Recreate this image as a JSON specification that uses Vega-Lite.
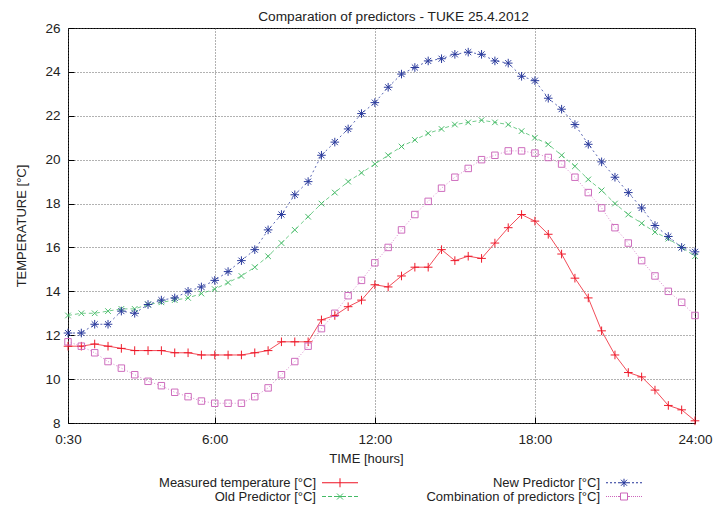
{
  "$schema": "https://vega.github.io/schema/vega-lite/v6.json",
  "width": 627,
  "height": 395,
  "autosize": {"type": "none"},
  "padding": {"left": 68, "top": 28, "right": 18, "bottom": 83},
  "title": {"text": "Comparation of predictors - TUKE 25.4.2012", "fontSize": 13.7, "fontWeight": "normal", "font": "Liberation Sans", "color": "#222222", "offset": 4, "dy": 7, "dx": 12},
  "config": {
    "view": {"stroke": "#000000", "strokeWidth": 1},
    "font": "Liberation Sans",
    "axis": {"labelFont": "Liberation Sans", "titleFont": "Liberation Sans", "labelColor": "#222222", "titleColor": "#222222", "labelFontSize": 13.5, "titleFontSize": 13, "titleFontWeight": "normal", "grid": true, "gridDash": [1, 2], "gridColor": "#555555", "gridOpacity": 0.9, "ticks": true, "tickSize": -6, "tickColor": "#000000", "tickWidth": 1, "domain": false}
  },
  "data": {"values": [
    {"time":0.5,"series":"Measured temperature [°C]","temp":11.5},{"time":1,"series":"Measured temperature [°C]","temp":11.5},{"time":1.5,"series":"Measured temperature [°C]","temp":11.6},{"time":2,"series":"Measured temperature [°C]","temp":11.5},{"time":2.5,"series":"Measured temperature [°C]","temp":11.4},{"time":3,"series":"Measured temperature [°C]","temp":11.3},{"time":3.5,"series":"Measured temperature [°C]","temp":11.3},{"time":4,"series":"Measured temperature [°C]","temp":11.3},{"time":4.5,"series":"Measured temperature [°C]","temp":11.2},{"time":5,"series":"Measured temperature [°C]","temp":11.2},{"time":5.5,"series":"Measured temperature [°C]","temp":11.1},{"time":6,"series":"Measured temperature [°C]","temp":11.1},{"time":6.5,"series":"Measured temperature [°C]","temp":11.1},{"time":7,"series":"Measured temperature [°C]","temp":11.1},{"time":7.5,"series":"Measured temperature [°C]","temp":11.2},{"time":8,"series":"Measured temperature [°C]","temp":11.3},{"time":8.5,"series":"Measured temperature [°C]","temp":11.7},{"time":9,"series":"Measured temperature [°C]","temp":11.7},{"time":9.5,"series":"Measured temperature [°C]","temp":11.7},{"time":10,"series":"Measured temperature [°C]","temp":12.7},{"time":10.5,"series":"Measured temperature [°C]","temp":12.9},{"time":11,"series":"Measured temperature [°C]","temp":13.3},{"time":11.5,"series":"Measured temperature [°C]","temp":13.6},{"time":12,"series":"Measured temperature [°C]","temp":14.3},{"time":12.5,"series":"Measured temperature [°C]","temp":14.2},{"time":13,"series":"Measured temperature [°C]","temp":14.7},{"time":13.5,"series":"Measured temperature [°C]","temp":15.1},{"time":14,"series":"Measured temperature [°C]","temp":15.1},{"time":14.5,"series":"Measured temperature [°C]","temp":15.9},{"time":15,"series":"Measured temperature [°C]","temp":15.4},{"time":15.5,"series":"Measured temperature [°C]","temp":15.6},{"time":16,"series":"Measured temperature [°C]","temp":15.5},{"time":16.5,"series":"Measured temperature [°C]","temp":16.2},{"time":17,"series":"Measured temperature [°C]","temp":16.9},{"time":17.5,"series":"Measured temperature [°C]","temp":17.5},{"time":18,"series":"Measured temperature [°C]","temp":17.2},{"time":18.5,"series":"Measured temperature [°C]","temp":16.6},{"time":19,"series":"Measured temperature [°C]","temp":15.7},{"time":19.5,"series":"Measured temperature [°C]","temp":14.6},{"time":20,"series":"Measured temperature [°C]","temp":13.7},{"time":20.5,"series":"Measured temperature [°C]","temp":12.2},{"time":21,"series":"Measured temperature [°C]","temp":11.1},{"time":21.5,"series":"Measured temperature [°C]","temp":10.3},{"time":22,"series":"Measured temperature [°C]","temp":10.1},{"time":22.5,"series":"Measured temperature [°C]","temp":9.5},{"time":23,"series":"Measured temperature [°C]","temp":8.8},{"time":23.5,"series":"Measured temperature [°C]","temp":8.6},{"time":24,"series":"Measured temperature [°C]","temp":8.1},
    {"time":0.5,"series":"Old Predictor [°C]","temp":12.9},{"time":1,"series":"Old Predictor [°C]","temp":13.0},{"time":1.5,"series":"Old Predictor [°C]","temp":13.0},{"time":2,"series":"Old Predictor [°C]","temp":13.1},{"time":2.5,"series":"Old Predictor [°C]","temp":13.2},{"time":3,"series":"Old Predictor [°C]","temp":13.2},{"time":3.5,"series":"Old Predictor [°C]","temp":13.4},{"time":4,"series":"Old Predictor [°C]","temp":13.5},{"time":4.5,"series":"Old Predictor [°C]","temp":13.6},{"time":5,"series":"Old Predictor [°C]","temp":13.7},{"time":5.5,"series":"Old Predictor [°C]","temp":13.9},{"time":6,"series":"Old Predictor [°C]","temp":14.1},{"time":6.5,"series":"Old Predictor [°C]","temp":14.4},{"time":7,"series":"Old Predictor [°C]","temp":14.7},{"time":7.5,"series":"Old Predictor [°C]","temp":15.1},{"time":8,"series":"Old Predictor [°C]","temp":15.6},{"time":8.5,"series":"Old Predictor [°C]","temp":16.2},{"time":9,"series":"Old Predictor [°C]","temp":16.8},{"time":9.5,"series":"Old Predictor [°C]","temp":17.4},{"time":10,"series":"Old Predictor [°C]","temp":18.0},{"time":10.5,"series":"Old Predictor [°C]","temp":18.5},{"time":11,"series":"Old Predictor [°C]","temp":19.0},{"time":11.5,"series":"Old Predictor [°C]","temp":19.4},{"time":12,"series":"Old Predictor [°C]","temp":19.8},{"time":12.5,"series":"Old Predictor [°C]","temp":20.2},{"time":13,"series":"Old Predictor [°C]","temp":20.6},{"time":13.5,"series":"Old Predictor [°C]","temp":20.9},{"time":14,"series":"Old Predictor [°C]","temp":21.2},{"time":14.5,"series":"Old Predictor [°C]","temp":21.4},{"time":15,"series":"Old Predictor [°C]","temp":21.6},{"time":15.5,"series":"Old Predictor [°C]","temp":21.7},{"time":16,"series":"Old Predictor [°C]","temp":21.8},{"time":16.5,"series":"Old Predictor [°C]","temp":21.7},{"time":17,"series":"Old Predictor [°C]","temp":21.6},{"time":17.5,"series":"Old Predictor [°C]","temp":21.3},{"time":18,"series":"Old Predictor [°C]","temp":21.0},{"time":18.5,"series":"Old Predictor [°C]","temp":20.7},{"time":19,"series":"Old Predictor [°C]","temp":20.2},{"time":19.5,"series":"Old Predictor [°C]","temp":19.7},{"time":20,"series":"Old Predictor [°C]","temp":19.1},{"time":20.5,"series":"Old Predictor [°C]","temp":18.6},{"time":21,"series":"Old Predictor [°C]","temp":18.0},{"time":21.5,"series":"Old Predictor [°C]","temp":17.5},{"time":22,"series":"Old Predictor [°C]","temp":17.1},{"time":22.5,"series":"Old Predictor [°C]","temp":16.7},{"time":23,"series":"Old Predictor [°C]","temp":16.4},{"time":23.5,"series":"Old Predictor [°C]","temp":16.0},{"time":24,"series":"Old Predictor [°C]","temp":15.6},
    {"time":0.5,"series":"New Predictor [°C]","temp":12.1},{"time":1,"series":"New Predictor [°C]","temp":12.1},{"time":1.5,"series":"New Predictor [°C]","temp":12.5},{"time":2,"series":"New Predictor [°C]","temp":12.5},{"time":2.5,"series":"New Predictor [°C]","temp":13.1},{"time":3,"series":"New Predictor [°C]","temp":13.0},{"time":3.5,"series":"New Predictor [°C]","temp":13.4},{"time":4,"series":"New Predictor [°C]","temp":13.6},{"time":4.5,"series":"New Predictor [°C]","temp":13.7},{"time":5,"series":"New Predictor [°C]","temp":14.0},{"time":5.5,"series":"New Predictor [°C]","temp":14.2},{"time":6,"series":"New Predictor [°C]","temp":14.5},{"time":6.5,"series":"New Predictor [°C]","temp":14.9},{"time":7,"series":"New Predictor [°C]","temp":15.4},{"time":7.5,"series":"New Predictor [°C]","temp":15.9},{"time":8,"series":"New Predictor [°C]","temp":16.8},{"time":8.5,"series":"New Predictor [°C]","temp":17.5},{"time":9,"series":"New Predictor [°C]","temp":18.4},{"time":9.5,"series":"New Predictor [°C]","temp":19.0},{"time":10,"series":"New Predictor [°C]","temp":20.2},{"time":10.5,"series":"New Predictor [°C]","temp":20.8},{"time":11,"series":"New Predictor [°C]","temp":21.4},{"time":11.5,"series":"New Predictor [°C]","temp":22.1},{"time":12,"series":"New Predictor [°C]","temp":22.6},{"time":12.5,"series":"New Predictor [°C]","temp":23.3},{"time":13,"series":"New Predictor [°C]","temp":23.9},{"time":13.5,"series":"New Predictor [°C]","temp":24.2},{"time":14,"series":"New Predictor [°C]","temp":24.5},{"time":14.5,"series":"New Predictor [°C]","temp":24.6},{"time":15,"series":"New Predictor [°C]","temp":24.8},{"time":15.5,"series":"New Predictor [°C]","temp":24.9},{"time":16,"series":"New Predictor [°C]","temp":24.8},{"time":16.5,"series":"New Predictor [°C]","temp":24.5},{"time":17,"series":"New Predictor [°C]","temp":24.4},{"time":17.5,"series":"New Predictor [°C]","temp":23.8},{"time":18,"series":"New Predictor [°C]","temp":23.6},{"time":18.5,"series":"New Predictor [°C]","temp":22.8},{"time":19,"series":"New Predictor [°C]","temp":22.3},{"time":19.5,"series":"New Predictor [°C]","temp":21.6},{"time":20,"series":"New Predictor [°C]","temp":20.7},{"time":20.5,"series":"New Predictor [°C]","temp":19.9},{"time":21,"series":"New Predictor [°C]","temp":19.2},{"time":21.5,"series":"New Predictor [°C]","temp":18.5},{"time":22,"series":"New Predictor [°C]","temp":17.8},{"time":22.5,"series":"New Predictor [°C]","temp":17.0},{"time":23,"series":"New Predictor [°C]","temp":16.5},{"time":23.5,"series":"New Predictor [°C]","temp":16.0},{"time":24,"series":"New Predictor [°C]","temp":15.8},
    {"time":0.5,"series":"Combination of predictors [°C]","temp":11.7},{"time":1,"series":"Combination of predictors [°C]","temp":11.5},{"time":1.5,"series":"Combination of predictors [°C]","temp":11.2},{"time":2,"series":"Combination of predictors [°C]","temp":10.8},{"time":2.5,"series":"Combination of predictors [°C]","temp":10.5},{"time":3,"series":"Combination of predictors [°C]","temp":10.2},{"time":3.5,"series":"Combination of predictors [°C]","temp":9.9},{"time":4,"series":"Combination of predictors [°C]","temp":9.7},{"time":4.5,"series":"Combination of predictors [°C]","temp":9.4},{"time":5,"series":"Combination of predictors [°C]","temp":9.2},{"time":5.5,"series":"Combination of predictors [°C]","temp":9.0},{"time":6,"series":"Combination of predictors [°C]","temp":8.9},{"time":6.5,"series":"Combination of predictors [°C]","temp":8.9},{"time":7,"series":"Combination of predictors [°C]","temp":8.9},{"time":7.5,"series":"Combination of predictors [°C]","temp":9.2},{"time":8,"series":"Combination of predictors [°C]","temp":9.6},{"time":8.5,"series":"Combination of predictors [°C]","temp":10.2},{"time":9,"series":"Combination of predictors [°C]","temp":10.8},{"time":9.5,"series":"Combination of predictors [°C]","temp":11.5},{"time":10,"series":"Combination of predictors [°C]","temp":12.3},{"time":10.5,"series":"Combination of predictors [°C]","temp":13.0},{"time":11,"series":"Combination of predictors [°C]","temp":13.8},{"time":11.5,"series":"Combination of predictors [°C]","temp":14.5},{"time":12,"series":"Combination of predictors [°C]","temp":15.3},{"time":12.5,"series":"Combination of predictors [°C]","temp":16.0},{"time":13,"series":"Combination of predictors [°C]","temp":16.8},{"time":13.5,"series":"Combination of predictors [°C]","temp":17.5},{"time":14,"series":"Combination of predictors [°C]","temp":18.1},{"time":14.5,"series":"Combination of predictors [°C]","temp":18.7},{"time":15,"series":"Combination of predictors [°C]","temp":19.2},{"time":15.5,"series":"Combination of predictors [°C]","temp":19.6},{"time":16,"series":"Combination of predictors [°C]","temp":20.0},{"time":16.5,"series":"Combination of predictors [°C]","temp":20.2},{"time":17,"series":"Combination of predictors [°C]","temp":20.4},{"time":17.5,"series":"Combination of predictors [°C]","temp":20.4},{"time":18,"series":"Combination of predictors [°C]","temp":20.3},{"time":18.5,"series":"Combination of predictors [°C]","temp":20.1},{"time":19,"series":"Combination of predictors [°C]","temp":19.8},{"time":19.5,"series":"Combination of predictors [°C]","temp":19.2},{"time":20,"series":"Combination of predictors [°C]","temp":18.5},{"time":20.5,"series":"Combination of predictors [°C]","temp":17.8},{"time":21,"series":"Combination of predictors [°C]","temp":16.9},{"time":21.5,"series":"Combination of predictors [°C]","temp":16.2},{"time":22,"series":"Combination of predictors [°C]","temp":15.4},{"time":22.5,"series":"Combination of predictors [°C]","temp":14.7},{"time":23,"series":"Combination of predictors [°C]","temp":14.0},{"time":23.5,"series":"Combination of predictors [°C]","temp":13.5},{"time":24,"series":"Combination of predictors [°C]","temp":12.9}
  ]},
  "encoding": {
    "x": {"field": "time", "type": "quantitative", "scale": {"domain": [0.5, 24], "nice": false, "zero": false},
      "axis": {"title": "TIME [hours]", "values": [0.5, 6, 12, 18, 24], "labelExpr": "datum.value == 0.5 ? '0:30' : datum.value + ':00'", "labelFlush": false, "labelPadding": 15.5, "titlePadding": 6, "titleX": 298}},
    "y": {"field": "temp", "type": "quantitative", "scale": {"domain": [8, 26], "nice": false, "zero": false},
      "axis": {"title": "TEMPERATURE [°C]", "values": [8, 10, 12, 14, 16, 18, 20, 22, 24, 26], "labelPadding": 14, "titlePadding": 16}},
    "color": {"field": "series", "type": "nominal",
      "scale": {"domain": ["Measured temperature [°C]", "Old Predictor [°C]", "New Predictor [°C]", "Combination of predictors [°C]"], "range": ["#ee1122", "#44bb66", "#223399", "#cc66bb"]},
      "legend": {"orient": "none", "legendX": 265.5, "legendY": 448, "columns": 2, "title": null, "padding": 0,
        "labelFontSize": 13, "labelFont": "Liberation Sans", "labelColor": "#222222", "labelAlign": "right", "labelOffset": -30.5, "labelLimit": 400,
        "symbolSize": 100, "symbolStrokeWidth": 1, "symbolFillColor": "transparent", "symbolOpacity": 1, "symbolDash": [], "rowPadding": 0, "columnPadding": 65}}
  },
  "layer": [
    {
      "mark": {"type": "point", "filled": false, "opacity": 0, "size": 100},
      "encoding": {
        "shape": {"field": "series", "type": "nominal", "scale": {"domain": ["Measured temperature [°C]", "Old Predictor [°C]", "New Predictor [°C]", "Combination of predictors [°C]"], "range": [
          "M-3.6,0H3.6M0,-0.9V0.9",
          "M-3.6,0H-2.8M-2.4,0H-1.6M-1.2,0H1.2M1.6,0H2.4M2.8,0H3.6M-0.6,-0.6L0.6,0.6M-0.6,0.6L0.6,-0.6",
          "M-3.6,0H-3.2M-2.8,0H-2.4M-2,0H-1.6M-1.2,0H1.2M1.6,0H2M2.4,0H2.8M3.2,0H3.6M0,-0.8V0.8M-0.6,-0.6L0.6,0.6M-0.6,0.6L0.6,-0.6",
          "M-3.6,0H-3.4M-3.2,0H-3M-2.8,0H-2.6M-2.4,0H-2.2M-2,0H-1.8M-1.6,0H-1.4M-1.2,0H-0.8M0.8,0H1.2M1.4,0H1.6M1.8,0H2M2.2,0H2.4M2.6,0H2.8M3,0H3.2M3.4,0H3.6M-0.7,-0.7H0.7V0.7H-0.7Z"]}}
      }
    },
    {"transform": [{"filter": {"field": "series", "equal": "Measured temperature [°C]"}}], "mark": {"type": "line", "strokeWidth": 1, "opacity": 0.75}},
    {"transform": [{"filter": {"field": "series", "equal": "Old Predictor [°C]"}}], "mark": {"type": "line", "strokeWidth": 1, "opacity": 0.75, "strokeDash": [4, 3]}},
    {"transform": [{"filter": {"field": "series", "equal": "New Predictor [°C]"}}], "mark": {"type": "line", "strokeWidth": 1, "opacity": 0.75, "strokeDash": [2, 3]}},
    {"transform": [{"filter": {"field": "series", "equal": "Combination of predictors [°C]"}}], "mark": {"type": "line", "strokeWidth": 1, "opacity": 0.75, "strokeDash": [1, 2]}},
    {"transform": [{"filter": {"field": "series", "equal": "Measured temperature [°C]"}}], "mark": {"type": "point", "filled": false, "strokeWidth": 1, "size": 74, "opacity": 0.95, "shape": "M-1,0H1M0,-1V1"}},
    {"transform": [{"filter": {"field": "series", "equal": "Old Predictor [°C]"}}], "mark": {"type": "point", "filled": false, "strokeWidth": 1, "size": 74, "opacity": 0.95, "shape": "M-0.65,-0.65L0.65,0.65M-0.65,0.65L0.65,-0.65"}},
    {"transform": [{"filter": {"field": "series", "equal": "New Predictor [°C]"}}], "mark": {"type": "point", "filled": false, "strokeWidth": 1, "size": 74, "opacity": 0.95, "shape": "M-1,0H1M0,-1V1M-0.7,-0.7L0.7,0.7M-0.7,0.7L0.7,-0.7"}},
    {"transform": [{"filter": {"field": "series", "equal": "Combination of predictors [°C]"}}], "mark": {"type": "point", "filled": false, "strokeWidth": 1, "size": 74, "opacity": 0.95, "shape": "M-0.75,-0.75H0.75V0.75H-0.75Z"}}
  ]
}
